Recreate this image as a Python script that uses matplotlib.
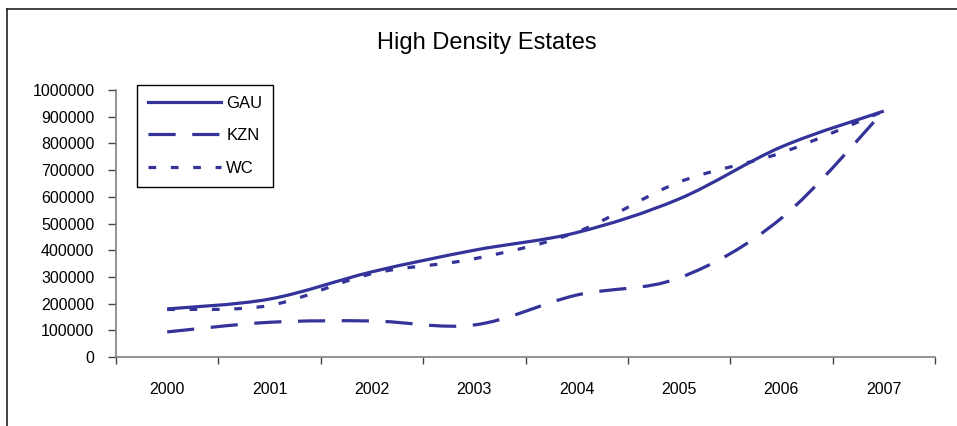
"""Line chart of high density estates per province, 2000-2007."""
import matplotlib

matplotlib.use("Agg")
import matplotlib.pyplot as plt
from matplotlib.lines import Line2D
from matplotlib.patches import PathPatch
from matplotlib.path import Path

plt.rcParams["font.family"] = ["Liberation Sans", "DejaVu Sans"]

years = ["2000", "2001", "2002", "2003", "2004", "2005", "2006", "2007"]
gau = [180000, 217000, 319000, 400000, 466000, 592000, 787000, 921000]
kzn = [94000, 130000, 135000, 120000, 232000, 296000, 520000, 921000]
wc = [178000, 193000, 312000, 368000, 468000, 655000, 765000, 921000]

series_names = ["GAU", "KZN", "WC"]
y_ticks = list(range(0, 1000001, 100000))

LINE_COLOR = "#333399"
LW = 2.3
STYLES = {
    "GAU": "-",
    "KZN": (0, (8.5, 5.2)),
    "WC": (0, (2.4, 4.6)),
}


def smooth_path(xs, ys):
    """Bezier path through the points, smoothed like a spreadsheet line chart."""
    n = len(xs)
    verts = [(xs[0], ys[0])]
    codes = [Path.MOVETO]
    for i in range(n - 1):
        x_prev, y_prev = (xs[i - 1], ys[i - 1]) if i > 0 else (xs[i], ys[i])
        x_next2, y_next2 = (xs[i + 2], ys[i + 2]) if i + 2 < n else (xs[i + 1], ys[i + 1])
        c1 = (xs[i] + (xs[i + 1] - x_prev) / 6, ys[i] + (ys[i + 1] - y_prev) / 6)
        c2 = (xs[i + 1] - (x_next2 - xs[i]) / 6, ys[i + 1] - (y_next2 - ys[i]) / 6)
        verts += [c1, c2, (xs[i + 1], ys[i + 1])]
        codes += [Path.CURVE4] * 3
    return Path(verts, codes)


fig = plt.figure(figsize=(9.57, 4.26), dpi=100)
ax = fig.add_axes([116 / 957, 1 - 357 / 426, 819 / 957, 267 / 426])

x = list(range(len(years)))
handles = []
for name, values in zip(series_names, [gau, kzn, wc]):
    patch = PathPatch(smooth_path(x, values), facecolor="none", edgecolor=LINE_COLOR,
                      linewidth=LW, linestyle=STYLES[name], capstyle="butt", zorder=3)
    ax.add_patch(patch)
    handles.append(Line2D([], [], color=LINE_COLOR, linewidth=LW,
                          linestyle=STYLES[name], dash_capstyle="butt", label=name))

ax.set_xlim(-0.5, len(years) - 0.5)
ax.set_ylim(0, 1000000)

# year labels sit in the middle of each category, tick marks on the boundaries
ax.set_xticks(x, years)
ax.set_xticks([i - 0.5 for i in range(len(years) + 1)], minor=True)
ax.tick_params(axis="x", which="major", length=0, pad=18, labelsize=11.5)
ax.tick_params(axis="x", which="minor", length=5.2, width=1, color="#444444")
ax.set_yticks(y_ticks, [str(v) for v in y_ticks])
ax.tick_params(axis="y", length=5.5, width=1, color="#444444", pad=10, labelsize=11.5)

for side in ("top", "right"):
    ax.spines[side].set_visible(False)
for side in ("left", "bottom"):
    ax.spines[side].set_color("#808080")
    ax.spines[side].set_linewidth(1.2)

leg = ax.legend(handles=handles, loc="upper left", bbox_to_anchor=(137 / 957, 1 - 85 / 426),
                bbox_transform=fig.transFigure, borderaxespad=0, fancybox=False,
                edgecolor="black", framealpha=1, fontsize=12, handlelength=4.4,
                handletextpad=0.3, labelspacing=1.05, borderpad=0.65)
leg.get_frame().set_linewidth(1.0)

fig.text(487 / 957, 1 - 43 / 426, "High Density Estates", ha="center", va="center", fontsize=17)

# chart area border (left and top edges)
fig.add_artist(Line2D([7 / 957, 7 / 957], [0, 1 - 9 / 426], transform=fig.transFigure,
                      color="#222222", linewidth=1.2))
fig.add_artist(Line2D([7 / 957, 1], [1 - 9 / 426, 1 - 9 / 426], transform=fig.transFigure,
                      color="#222222", linewidth=1.2))

fig.savefig("out.png", dpi=100)
